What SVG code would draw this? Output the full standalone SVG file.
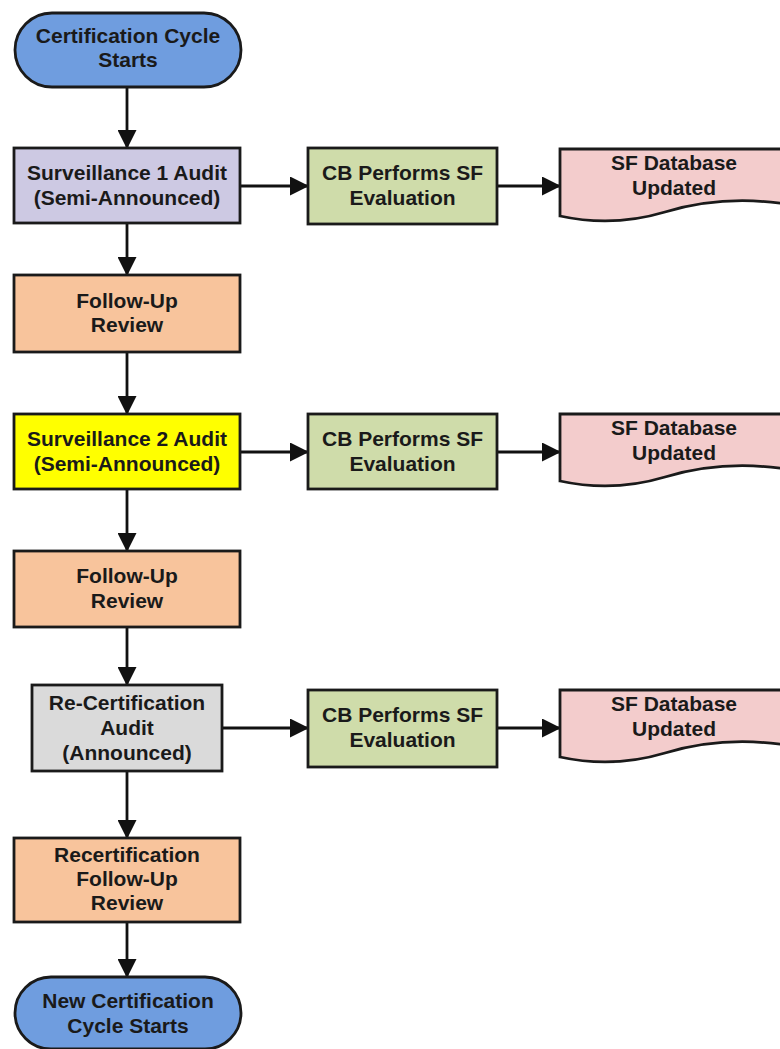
<svg xmlns="http://www.w3.org/2000/svg" width="780" height="1049" viewBox="0 0 780 1049">
<style>
  text { font-family: "Liberation Sans", Arial, sans-serif; font-weight: bold; font-size: 21px; fill: #1a1a1a; text-anchor: middle; }
  .box { stroke: #1a1a1a; stroke-width: 2.8; }
  .term { fill: #6f9ddf; }
  .lav { fill: #cdc9e3; }
  .peach { fill: #f8c49c; }
  .yellow { fill: #ffff00; }
  .gray { fill: #dadada; }
  .green { fill: #cfdcaa; }
  .pink { fill: #f3cccc; }
  .conn { stroke: #111; stroke-width: 2.8; fill: none; marker-end: url(#ah); }
</style>
<defs>
  <marker id="ah" markerUnits="userSpaceOnUse" markerWidth="19" markerHeight="19" refX="18" refY="9.5" orient="auto">
    <path d="M0,0 L19,9.5 L0,19 z" fill="#111"/>
  </marker>
</defs>
<rect width="780" height="1049" fill="#ffffff"/>

<g id="connectors">
  <line class="conn" x1="127" y1="87" x2="127" y2="148"/>
  <line class="conn" x1="127" y1="223" x2="127" y2="275"/>
  <line class="conn" x1="127" y1="352" x2="127" y2="414"/>
  <line class="conn" x1="127" y1="489" x2="127" y2="551"/>
  <line class="conn" x1="127" y1="627" x2="127" y2="685"/>
  <line class="conn" x1="127" y1="771" x2="127" y2="838"/>
  <line class="conn" x1="127" y1="922" x2="127" y2="977"/>
  <line class="conn" x1="240" y1="186" x2="308" y2="186"/>
  <line class="conn" x1="497" y1="186" x2="560" y2="186"/>
  <line class="conn" x1="240" y1="452" x2="308" y2="452"/>
  <line class="conn" x1="497" y1="452" x2="560" y2="452"/>
  <line class="conn" x1="222" y1="728" x2="308" y2="728"/>
  <line class="conn" x1="497" y1="728" x2="560" y2="728"/>
</g>

<g id="start">
  <rect class="box term" x="15" y="13" width="226" height="74" rx="37" ry="37"/>
  <text x="128" y="43">Certification Cycle</text>
  <text x="128" y="67">Starts</text>
</g>

<g id="surv1">
  <rect class="box lav" x="14" y="148" width="226" height="75"/>
  <text x="127" y="180">Surveillance 1 Audit</text>
  <text x="127" y="205">(Semi-Announced)</text>
</g>

<g id="cb1">
  <rect class="box green" x="308" y="148" width="189" height="76"/>
  <text x="402.5" y="180">CB Performs SF</text>
  <text x="402.5" y="205">Evaluation</text>
</g>

<g id="sf1">
  <path class="box pink" d="M560,149 H792 V205 C745,197 705,200 665,212 C625,224 592,223 560,216 Z"/>
  <text x="674" y="170">SF Database</text>
  <text x="674" y="195">Updated</text>
</g>

<g id="followup1">
  <rect class="box peach" x="14" y="275" width="226" height="77"/>
  <text x="127" y="308">Follow-Up</text>
  <text x="127" y="332">Review</text>
</g>

<g id="surv2">
  <rect class="box yellow" x="14" y="414" width="226" height="75"/>
  <text x="127" y="446">Surveillance 2 Audit</text>
  <text x="127" y="471">(Semi-Announced)</text>
</g>

<g id="cb2">
  <rect class="box green" x="308" y="414" width="189" height="75"/>
  <text x="402.5" y="446">CB Performs SF</text>
  <text x="402.5" y="471">Evaluation</text>
</g>

<g id="sf2">
  <path class="box pink" d="M560,414 H792 V470 C745,462 705,465 665,477 C625,489 592,488 560,481 Z"/>
  <text x="674" y="435">SF Database</text>
  <text x="674" y="460">Updated</text>
</g>

<g id="followup2">
  <rect class="box peach" x="14" y="551" width="226" height="76"/>
  <text x="127" y="583">Follow-Up</text>
  <text x="127" y="608">Review</text>
</g>

<g id="recert">
  <rect class="box gray" x="32" y="685" width="190" height="86"/>
  <text x="127" y="710">Re-Certification</text>
  <text x="127" y="735">Audit</text>
  <text x="127" y="760">(Announced)</text>
</g>

<g id="cb3">
  <rect class="box green" x="308" y="690" width="189" height="77"/>
  <text x="402.5" y="722">CB Performs SF</text>
  <text x="402.5" y="747">Evaluation</text>
</g>

<g id="sf3">
  <path class="box pink" d="M560,690 H792 V746 C745,738 705,741 665,753 C625,765 592,764 560,757 Z"/>
  <text x="674" y="711">SF Database</text>
  <text x="674" y="736">Updated</text>
</g>

<g id="recertfollowup">
  <rect class="box peach" x="14" y="838" width="226" height="84"/>
  <text x="127" y="862">Recertification</text>
  <text x="127" y="886">Follow-Up</text>
  <text x="127" y="910">Review</text>
</g>

<g id="end">
  <rect class="box term" x="15" y="977" width="226" height="72" rx="36" ry="36"/>
  <text x="128" y="1008">New Certification</text>
  <text x="128" y="1033">Cycle Starts</text>
</g>
</svg>
